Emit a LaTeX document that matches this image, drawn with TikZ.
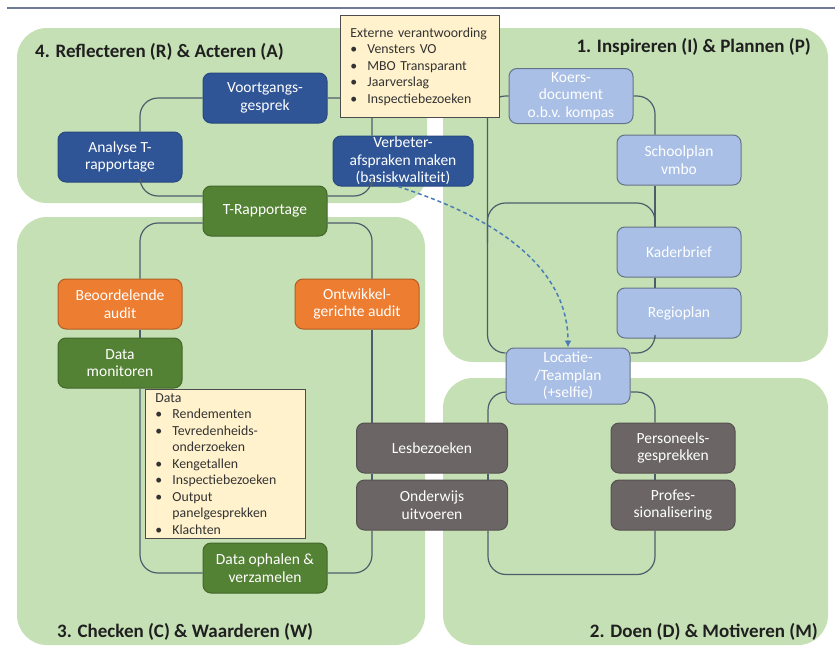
\documentclass[tikz,border=0pt]{standalone}
\usepackage{fontspec}
\setmainfont{Carlito}
\usepackage{tikz}
\usetikzlibrary{positioning,arrows.meta,calc}
\tikzset{>={Latex[length=7pt,width=7pt]}}

\definecolor{panelgreen}{HTML}{C5E0B4}
\definecolor{darkblue}{HTML}{2F5597}
\definecolor{darkgreen}{HTML}{548235}
\definecolor{auditorange}{HTML}{ED7D31}
\definecolor{stonegray}{HTML}{6B6565}
\definecolor{paleblue}{HTML}{A9BFE5}
\definecolor{notefill}{HTML}{FFF2CC}
\definecolor{linkgray}{HTML}{4E5D6C}
\definecolor{arrowblue}{HTML}{4A7DB5}
\definecolor{topline}{HTML}{6F7A96}

\newcommand{\bitem}{\makebox[17pt][l]{\textbullet}}
\newcommand{\bind}{\hspace*{17pt}}

\tikzset{
  panel/.style={fill=panelgreen, rounded corners=30pt},
  heading/.style={font=\bfseries\fontsize{19pt}{22pt}\selectfont, text=black!88, inner sep=0pt},
  stagebox/.style={rounded corners=8pt, minimum width=124pt, minimum height=50pt, align=center,
    text=white, font=\fontsize{15.5pt}{17.5pt}\selectfont, line width=1pt, inner sep=1pt},
  bluebox/.style={stagebox, fill=darkblue, draw=darkblue!85!black},
  greenbox/.style={stagebox, fill=darkgreen, draw=darkgreen!80!black},
  orangebox/.style={stagebox, fill=auditorange, draw=auditorange!75!black},
  graybox/.style={stagebox, fill=stonegray, draw=stonegray!80!black},
  lightbox/.style={stagebox, fill=paleblue, draw=paleblue!60!black},
  note/.style={fill=notefill, draw=black!70, line width=0.8pt, align=left, text=black!80,
    font=\fontsize{13.8pt}{16.5pt}\selectfont, inner xsep=10pt, inner ysep=2pt, anchor=north west},
  link/.style={draw=linkgray, line width=1.2pt, rounded corners=18pt}
}

\begin{document}
\begin{tikzpicture}[x=1pt, y=-1pt]
\useasboundingbox (0,0) rectangle (835,648);
\draw[line width=2pt, topline] (7,8) -- (835,8);

% de vier kwadranten
\fill[panel] (17,28) rectangle (427,203);
\fill[panel] (443,28) rectangle (828,362);
\fill[panel] (17,217) rectangle (425,645);
\fill[panel] (443,378) rectangle (828,645);

\node[heading, anchor=base west] (hra) at (35,57) {4. Reflecteren (R) \& Acteren (A)};
\node[heading, anchor=base east] (hip) at (811,52) {1. Inspireren (I) \& Plannen (P)};
\node[heading, anchor=base west] (hcw) at (57,637) {3. Checken (C) \& Waarderen (W)};
\node[heading, anchor=base east] (hdm) at (818,637) {2. Doen (D) \& Motiveren (M)};

% R & A
\node[bluebox] (voort) at (265,98) {Voortgangs-\\gesprek};
\node[bluebox] (analyse) at (120,157) {Analyse T-\\rapportage};
\node[bluebox, minimum width=140pt] (verbeter) at (403,161) {Verbeter-\\afspraken maken\\(basiskwaliteit)};
\node[greenbox] (trap) at (265,211) {T-Rapportage};

% C & W
\node[orangebox] (beoord) at (120,304) {Beoordelende\\audit};
\node[greenbox, below=8pt of beoord] (datamon) {Data\\monitoren};
\node[orangebox] (ontw) at (357,304) {Ontwikkel-\\gerichte audit};
\node[greenbox] (dataoph) at (265,568) {Data ophalen \&\\verzamelen};

% D & M
\node[graybox, minimum width=151pt] (lesb) at (432,448) {Lesbezoeken};
\node[graybox, minimum width=151pt, below=6pt of lesb] (onderw) {Onderwijs\\uitvoeren};
\node[graybox] (pers) at (673,448) {Personeels-\\gesprekken};
\node[graybox, below=6pt of pers] (prof) {Profes-\\sionalisering};

% I & P
\node[lightbox, minimum height=55pt] (koers) at (571,96) {Koers-\\document\\o.b.v. kompas};
\node[lightbox] (school) at (679,160) {Schoolplan\\vmbo};
\node[lightbox] (kader) at (679,252) {Kaderbrief};
\node[lightbox, below=10pt of kader] (regio) {Regioplan};
\node[lightbox, minimum height=56pt] (locatie) at (568,376) {Locatie-\\/Teamplan\\(+selfie)};

% cyclus R & A
\draw[link] (voort.west) -| ([xshift=20pt]analyse.north);
\draw[link] ([xshift=20pt]analyse.south) |- ([yshift=15pt]trap.west);
\draw[link] ([yshift=15pt]trap.east) -| ([xshift=-31pt]verbeter.south);
\draw[link] ([xshift=-31pt]verbeter.north) |- (voort.east);

% cyclus C & W
\draw[link] ([yshift=-12pt]trap.west) -| ([xshift=20pt]beoord.north);
\draw[link] ([xshift=20pt]beoord.south) -- ([xshift=20pt]datamon.north);
\draw[link] ([xshift=20pt]datamon.south) |- ([yshift=-5pt]dataoph.west);
\draw[link] ([yshift=-5pt]dataoph.east) -| ([xshift=-60pt]onderw.south);
\draw[link] ([xshift=-60pt]onderw.north) -- ([xshift=-60pt]lesb.south);
\draw[link] ([xshift=-60pt]lesb.north) -- ([xshift=15pt]ontw.south);
\draw[link] ([xshift=15pt]ontw.north) |- ([yshift=-12pt]trap.east);

% cyclus I & P
\draw[link] (koers.east) -| ([xshift=-24pt]school.north);
\draw[link] ([xshift=-24pt]school.south) -- ([xshift=-24pt]kader.north);
\draw[link] ([xshift=-24pt]kader.south) -- ([xshift=-24pt]regio.north);
\draw[link] ([xshift=-24pt]regio.south) |- ([yshift=23pt]locatie.east);
\draw[link] ([yshift=23pt]locatie.west) -| ([xshift=-21pt]koers.west) -- (koers.west);
\draw[link] ([xshift=-24pt]kader.north) |- ([xshift=-21pt,yshift=-107pt]koers.west) -- ++(0,40);

% cyclus D & M
\draw[link] ([yshift=-16pt]locatie.east) -| ([xshift=-18pt]pers.north);
\draw[link] ([xshift=-18pt]pers.south) -- ([xshift=-18pt]prof.north);
\draw[link] ([xshift=-18pt]prof.south) -- ++(0,44) -| ([xshift=56pt]onderw.south);
\draw[link] ([xshift=56pt]onderw.north) -- ([xshift=56pt]lesb.south);
\draw[link] ([xshift=56pt]lesb.north) |- ([yshift=-16pt]locatie.west);

% tekstvakken
\node[note, text width=139pt, minimum height=102pt] (extern) at (340,15)
  {Externe verantwoording\\ \bitem Vensters VO\\ \bitem MBO Transparant\\ \bitem Jaarverslag\\ \bitem Inspectiebezoeken};
\node[note, text width=140pt, minimum height=149pt, inner ysep=0pt] (data) at (145,389)
  {Data\\ \bitem Rendementen\\ \bitem Tevredenheids-\\ \bind onderzoeken\\ \bitem Kengetallen\\
   \bitem Inspectiebezoeken\\ \bitem Output\\ \bind panelgesprekken\\ \bitem Klachten};

\draw[->, arrowblue, line width=1.5pt, dash pattern=on 4pt off 3pt]
  ([xshift=-5pt]verbeter.south) .. controls +(42,14) and +(0,-105) .. (locatie.north);
\end{tikzpicture}
\end{document}
